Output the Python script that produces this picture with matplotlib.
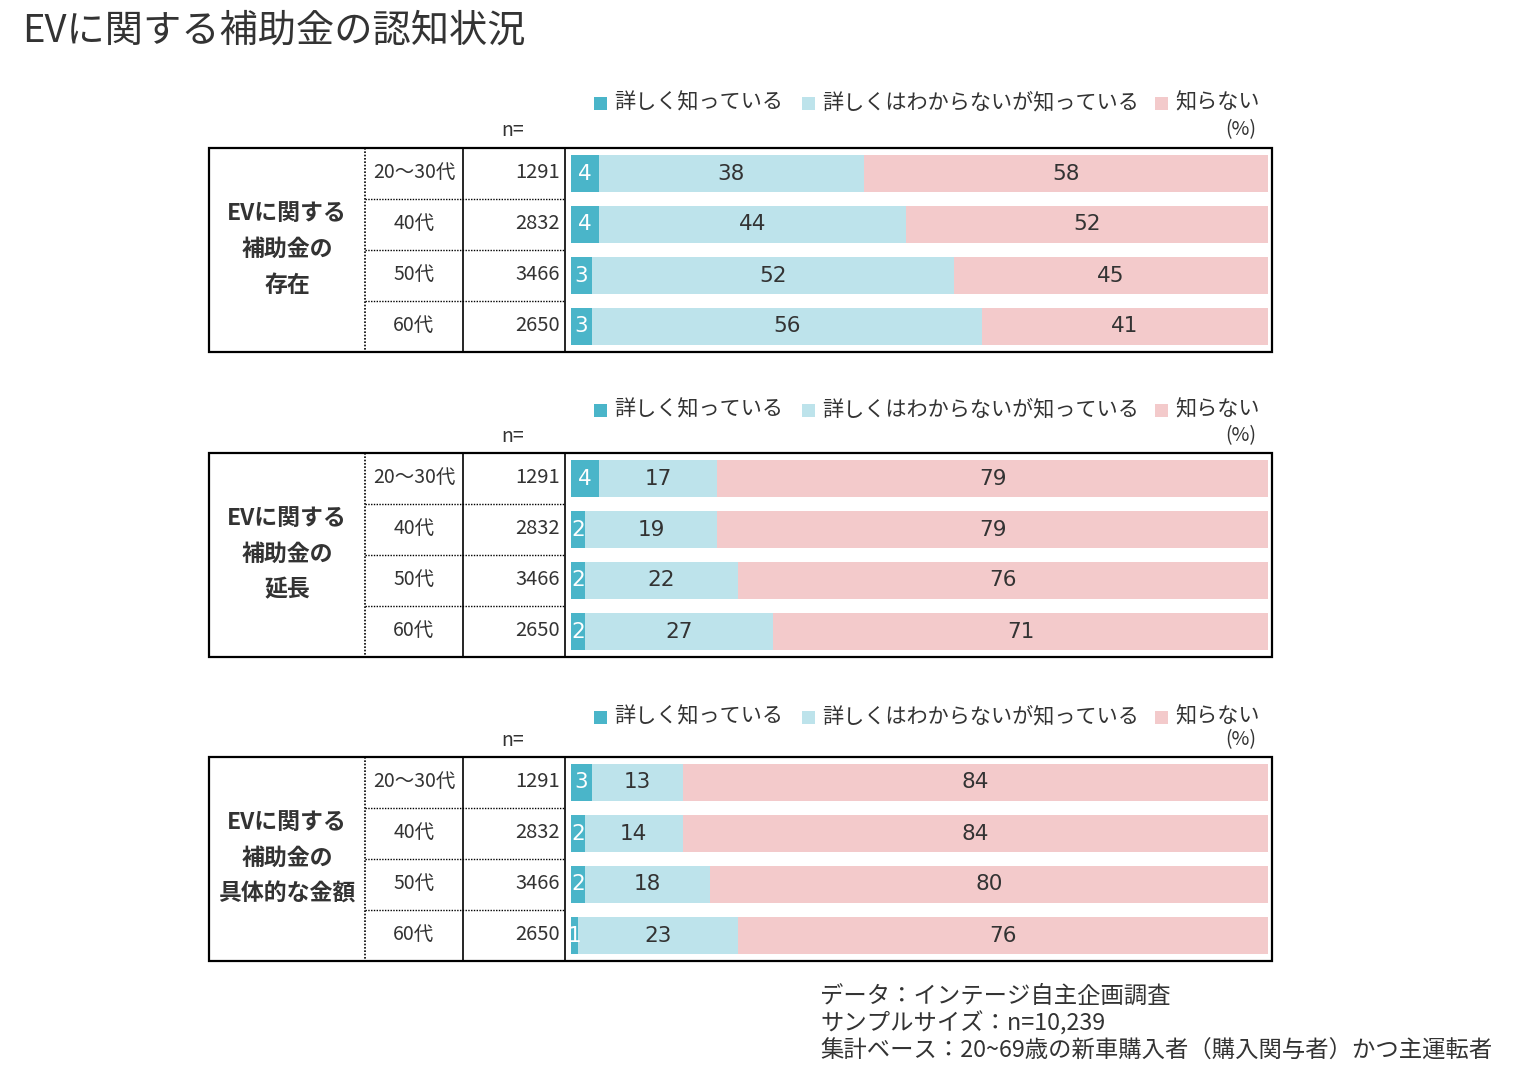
import matplotlib
matplotlib.use("Agg")
import matplotlib.pyplot as plt
from matplotlib.patches import Rectangle

plt.rcParams['font.family'] = ['Noto Sans CJK JP', 'DejaVu Sans']

# ---------------- data ----------------
title = "EVに関する補助金の認知状況"
series_names = ["詳しく知っている", "詳しくはわからないが知っている", "知らない"]
ages = ["20～30代", "40代", "50代", "60代"]
n_values = [1291, 2832, 3466, 2650]
panel_labels = [["EVに関する", "補助金の", "存在"],
                ["EVに関する", "補助金の", "延長"],
                ["EVに関する", "補助金の", "具体的な金額"]]
p1_detail = [4, 4, 3, 3]
p1_some = [38, 44, 52, 56]
p1_not = [58, 52, 45, 41]
p2_detail = [4, 2, 2, 2]
p2_some = [17, 19, 22, 27]
p2_not = [79, 79, 76, 71]
p3_detail = [3, 2, 2, 1]
p3_some = [13, 14, 18, 23]
p3_not = [84, 84, 80, 76]
panels = [(p1_detail, p1_some, p1_not),
          (p2_detail, p2_some, p2_not),
          (p3_detail, p3_some, p3_not)]
footnotes = ["データ：インテージ自主企画調査",
             "サンプルサイズ：n=10,239",
             "集計ベース：20~69歳の新車購入者（購入関与者）かつ主運転者"]

# ---------------- style ----------------
W, H = 1513, 1082
colors = ["#4AB5C9", "#BDE3EB", "#F3CACB"]
label_colors = ["white", "#333333", "#333333"]
txt = "#333333"

fig = plt.figure(figsize=(W / 100, H / 100), dpi=100)
bg = fig.add_axes([0, 0, 1, 1])
bg.set_xlim(0, W)
bg.set_ylim(H, 0)
bg.axis('off')

bg.text(22, 31, title, fontsize=27.5, color=txt, ha='left', va='center')

box_left, box_right = 209, 1272
col_dot, col1, col2 = 365, 463, 565
bar_left, bar_right = 571, 1268
box_tops = [148, 453, 757]
legend_ys = [102, 409, 716]
n_ys = [130, 436, 740]
box_h = 204
row_h = box_h / 4

for pi, (top, vals) in enumerate(zip(box_tops, panels)):
    bottom = top + box_h
    # legend
    ly = legend_ys[pi]
    lx = [594, 802, 1155]
    for c, x, name in zip(colors, lx, series_names):
        bg.add_patch(Rectangle((x, ly - 5), 13, 13, color=c, lw=0))
        bg.text(x + 20, ly, name, fontsize=15.2, color=txt, ha='left', va='center')
    bg.text(513, n_ys[pi], "n=", fontsize=14, color=txt, ha='center', va='center')
    bg.text(1256, n_ys[pi], "(%)", fontsize=14, color=txt, ha='right', va='center')

    # table lines
    bg.add_patch(Rectangle((box_left, top), box_right - box_left, box_h,
                           fill=False, ec='black', lw=1.6))
    bg.plot([col_dot, col_dot], [top, bottom], color='black', lw=1.2, ls=(0, (1, 1)))
    bg.plot([col1, col1], [top, bottom], color='black', lw=1.2)
    bg.plot([col2, col2], [top, bottom], color='black', lw=1.2)
    for r in range(1, 4):
        y = top + r * row_h
        bg.plot([col_dot, col2], [y, y], color='black', lw=1.0, ls=(0, (1, 1)))

    # row header
    cy = top + box_h / 2
    for li, line in enumerate(panel_labels[pi]):
        bg.text(287, cy + (li - 1) * 36 - 1, line, fontsize=16.5, fontweight='bold',
                color=txt, ha='center', va='center')

    for r in range(4):
        yc = top + (r + 0.5) * row_h
        bg.text(414, yc - 1, ages[r], fontsize=14, color=txt, ha='center', va='center')
        bg.text(560, yc - 1, str(n_values[r]), fontsize=14.5, color=txt, ha='right', va='center')

    # bars
    ax = fig.add_axes([bar_left / W, 1 - bottom / H, (bar_right - bar_left) / W, box_h / H])
    ax.set_xlim(0, 100)
    ax.set_ylim(4, 0)
    ax.axis('off')
    ypos = [r + 0.5 for r in range(4)]
    left = [0] * 4
    for si, series in enumerate(vals):
        ax.barh(ypos, series, left=left, height=0.71, color=colors[si], lw=0)
        for y, l, v in zip(ypos, left, series):
            ax.text(l + v / 2, y, str(v), fontsize=15.5, color=label_colors[si],
                    family='DejaVu Sans', ha='center', va='center')
        left = [a + b for a, b in zip(left, series)]

for i, line in enumerate(footnotes):
    bg.text(820, 996 + i * 27.5, line, fontsize=16.8, color=txt, ha='left', va='center')

fig.savefig("out.png", dpi=100)
